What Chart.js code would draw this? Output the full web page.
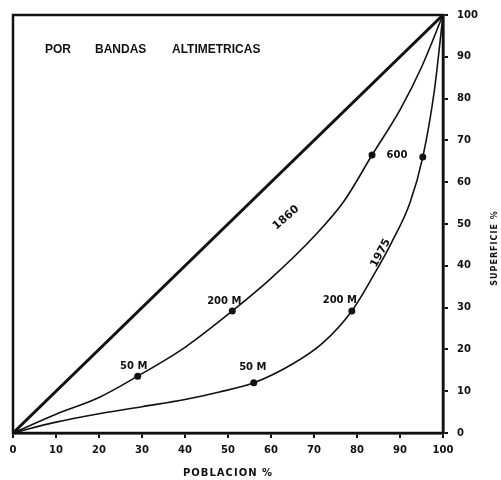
<!DOCTYPE html>
<html>
<head>
<meta charset="utf-8">
<script src="https://cdn.jsdelivr.net/npm/chart.js@4"></script>
<style>
  body { margin: 0; background: #fff; }
  #wrap { width: 501px; height: 480px; }
</style>
</head>
<body>
<div id="wrap"><canvas id="myChart" width="501" height="480"></canvas></div>
<script>
// axis ticks (both axes run 0-100 %)
const axisTicks = [0, 10, 20, 30, 40, 50, 60, 70, 80, 90, 100];

// line of equality
const diagX = [0, 100];
const diagY = [0, 100];

// 1860 curve (poblacion %, superficie %)
const x1860 = [0, 10, 20, 29, 40, 51, 60, 70, 77, 83.5, 90, 95, 100];
const y1860 = [0, 4.5, 8.5, 13.6, 20.5, 29.2, 37, 47, 55.5, 66.5, 77.3, 87.5, 100];
const marks1860 = [null, null, null, '50 M', null, '200 M', null, null, null, '600', null, null, null];

// 1975 curve
const x1975 = [0, 10, 20, 30, 40, 48, 56, 65, 72, 78.8, 84, 88, 92.3, 95.3, 98, 100];
const y1975 = [0, 2.6, 4.6, 6.3, 8, 9.8, 12, 16.5, 21.5, 29.2, 38, 45.5, 55, 66, 82, 100];
const marks1975 = [null, null, null, null, null, null, '50 M', null, null, '200 M', null, null, null, '600', null, null];

// curve names and where they sit
const curveNames = ['1860', '1975'];
const curveNameAt = [[63.5, 51.5], [85.5, 43]];

function toPoints(xs, ys) {
    return xs.map((x, i) => ({ x: x, y: ys[i] }));
}

const ink = '#111';
const labelFont = 'bold 10px "DejaVu Sans"';

// text drawn on top: title, axis titles, point and curve labels
const textPlugin = {
    id: 'texts',
    afterDraw(chart) {
        const ctx = chart.ctx;
        const a = chart.chartArea;
        const xs = chart.scales.x, ys = chart.scales.y;
        ctx.save();

        // frame round the plot
        ctx.strokeStyle = ink;
        ctx.lineWidth = 2.5;
        ctx.strokeRect(a.left, a.top, a.right - a.left, a.bottom - a.top);

        ctx.fillStyle = ink;
        ctx.textBaseline = 'middle';

        // heading inside the plot
        ctx.font = 'bold 12px "Liberation Sans"';
        ctx.textAlign = 'left';
        [['POR', 32], ['BANDAS', 82], ['ALTIMETRICAS', 159]].forEach(([w, dx]) => {
            ctx.fillText(w, a.left + dx, a.top + 35);
        });

        // x axis title
        ctx.font = 'bold 10px "DejaVu Sans"';
        ctx.letterSpacing = '1px';
        ctx.textAlign = 'center';
        ctx.fillText('POBLACION %', (a.left + a.right) / 2, 473);

        // y axis title, reading upwards
        ctx.font = 'bold 8px "DejaVu Sans"';
        ctx.save();
        ctx.translate(495, 248);
        ctx.rotate(-Math.PI / 2);
        ctx.fillText('SUPERFICIE %', 0, 0);
        ctx.restore();
        ctx.letterSpacing = '0px';

        // point labels
        const offsets = {
            '1860': { '50 M': [-4, -10], '200 M': [-8, -10], '600': [25, 0] },
            '1975': { '50 M': [-1, -15], '200 M': [-12, -11] }
        };
        ctx.font = labelFont;
        [[x1860, y1860, marks1860, '1860'], [x1975, y1975, marks1975, '1975']].forEach(([xv, yv, mk, name]) => {
            mk.forEach((t, i) => {
                if (!t || !offsets[name][t]) return;
                const o = offsets[name][t];
                ctx.fillText(t, xs.getPixelForValue(xv[i]) + o[0], ys.getPixelForValue(yv[i]) + o[1]);
            });
        });

        // curve names along the curves
        const angles = [-41, -62];
        ctx.font = 'bold 11px "DejaVu Sans"';
        curveNames.forEach((n, i) => {
            ctx.save();
            ctx.translate(xs.getPixelForValue(curveNameAt[i][0]), ys.getPixelForValue(curveNameAt[i][1]));
            ctx.rotate(angles[i] * Math.PI / 180);
            ctx.fillText(n, 0, 0);
            ctx.restore();
        });

        ctx.restore();
    }
};

function curveDataset(xs, ys, marks) {
    return {
        data: toPoints(xs, ys),
        borderColor: ink,
        borderWidth: 1.6,
        backgroundColor: ink,
        pointRadius: marks.map(m => (m ? 3.5 : 0)),
        pointBorderWidth: 0,
        cubicInterpolationMode: 'monotone',
        fill: false
    };
}

new Chart(document.getElementById('myChart').getContext('2d'), {
    type: 'line',
    data: {
        datasets: [
            {
                data: toPoints(diagX, diagY),
                borderColor: ink,
                borderWidth: 3,
                pointRadius: 0,
                fill: false
            },
            curveDataset(x1860, y1860, marks1860),
            curveDataset(x1975, y1975, marks1975)
        ]
    },
    options: {
        responsive: false,
        animation: false,
        layout: { padding: { left: 13, top: 15, right: 0, bottom: 0 } },
        plugins: { legend: { display: false }, tooltip: { enabled: false } },
        scales: {
            x: {
                type: 'linear',
                position: 'bottom',
                min: 0,
                max: 100,
                afterBuildTicks: s => { s.ticks = axisTicks.map(v => ({ value: v })); },
                afterFit: s => { s.height = 47; },
                grid: { drawOnChartArea: false, drawTicks: true, tickLength: 5, color: ink, lineWidth: 2 },
                border: { display: true, color: ink, width: 2.5 },
                ticks: { color: ink, font: { family: 'DejaVu Sans', size: 10, weight: 'bold' }, padding: 6, maxRotation: 0 }
            },
            y: {
                type: 'linear',
                position: 'right',
                min: 0,
                max: 100,
                afterBuildTicks: s => { s.ticks = axisTicks.map(v => ({ value: v })); },
                afterFit: s => { s.width = 58; },
                grid: { drawOnChartArea: false, drawTicks: true, tickLength: 5, color: ink, lineWidth: 2 },
                border: { display: true, color: ink, width: 2.5 },
                ticks: { color: ink, font: { family: 'DejaVu Sans', size: 10, weight: 'bold' }, padding: 9 }
            }
        }
    },
    plugins: [textPlugin]
});
</script>
</body>
</html>
